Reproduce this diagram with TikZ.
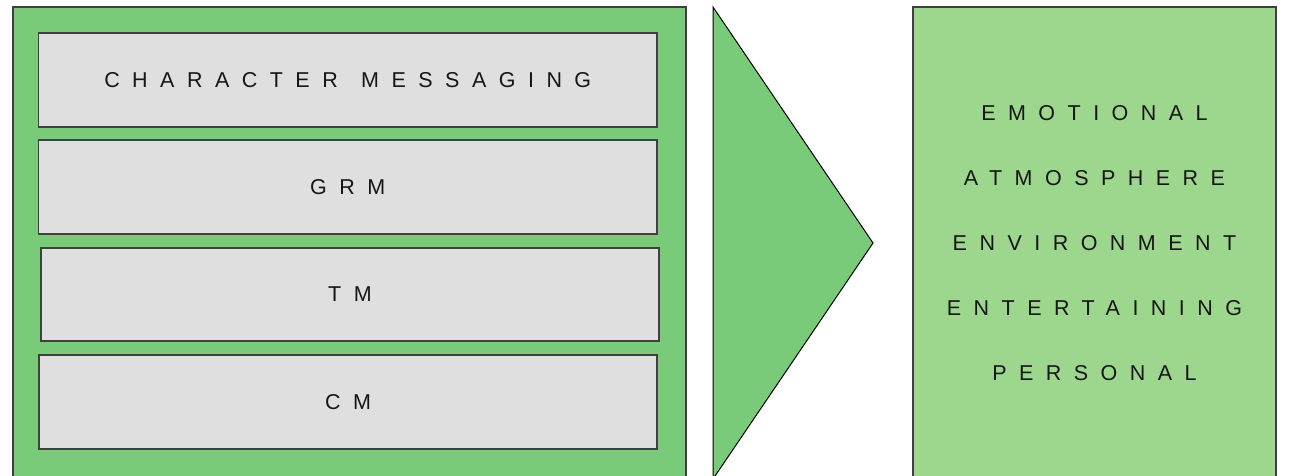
\documentclass[tikz,border=0pt]{standalone}
\usepackage{fontspec}
\setmainfont{Liberation Sans}
\newfontfamily\trackfont[LetterSpace=58]{Liberation Sans}
\definecolor{panelgreen}{HTML}{79CB79}
\definecolor{lightgreen}{HTML}{9DD78E}
\definecolor{cellgray}{HTML}{DFDFDF}
\definecolor{edgegray}{HTML}{404040}
\definecolor{ink}{HTML}{161616}
\newcommand{\tracked}[1]{{\trackfont #1}}
\tikzset{
  panel/.style={fill=panelgreen, draw=edgegray, line width=1.3pt},
  sidepanel/.style={fill=lightgreen, draw=edgegray, line width=1.3pt},
  pointer/.style={fill=panelgreen, draw=black, line width=1pt, line join=miter},
  cell/.style={fill=cellgray, draw=edgegray, line width=1.5pt, anchor=north west,
    inner sep=0pt, outer sep=0pt, font=\fontsize{21.5}{24}\selectfont, text=ink},
  item/.style={inner sep=0pt, font=\fontsize{21.5}{24}\selectfont, text=ink}
}
\begin{document}
\begin{tikzpicture}[x=1pt,y=-1pt]
\useasboundingbox (0,0) rectangle (1289,476);
\clip (0,0) rectangle (1289,476);

% left panel with the four layers
\draw[panel] (13,7) rectangle (686,495);
\node[cell, minimum width=618.5pt, minimum height=94pt] (char) at (38.5,33)
  {\tracked{CHARACTER\kern5pt\ MESSAGING}};
\node[cell, minimum width=618.5pt, minimum height=94pt] (grm) at (38.5,140)
  {\tracked{GRM}};
\node[cell, minimum width=618pt, minimum height=93pt] (tm) at (41,248)
  {\tracked{TM}};
\node[cell, minimum width=618pt, minimum height=94pt] (cm) at (39,355)
  {\tracked{CM}};

% pointer
\draw[pointer] (713,7) -- (873,243) -- (713,479) -- cycle;

% right panel with the outcomes
\draw[sidepanel] (913,7) rectangle (1276,495);
\node[item] (emo) at (1094.5,113.5) {\tracked{EMOTIONAL}};
\node[item] (atm) at (1094.5,178.5) {\tracked{ATMOSPHERE}};
\node[item] (env) at (1094.5,243.5) {\tracked{ENVIRONMENT}};
\node[item] (ent) at (1094.5,308.5) {\tracked{ENTERTAINING}};
\node[item] (per) at (1094.5,373.5) {\tracked{PERSONAL}};
\end{tikzpicture}
\end{document}
